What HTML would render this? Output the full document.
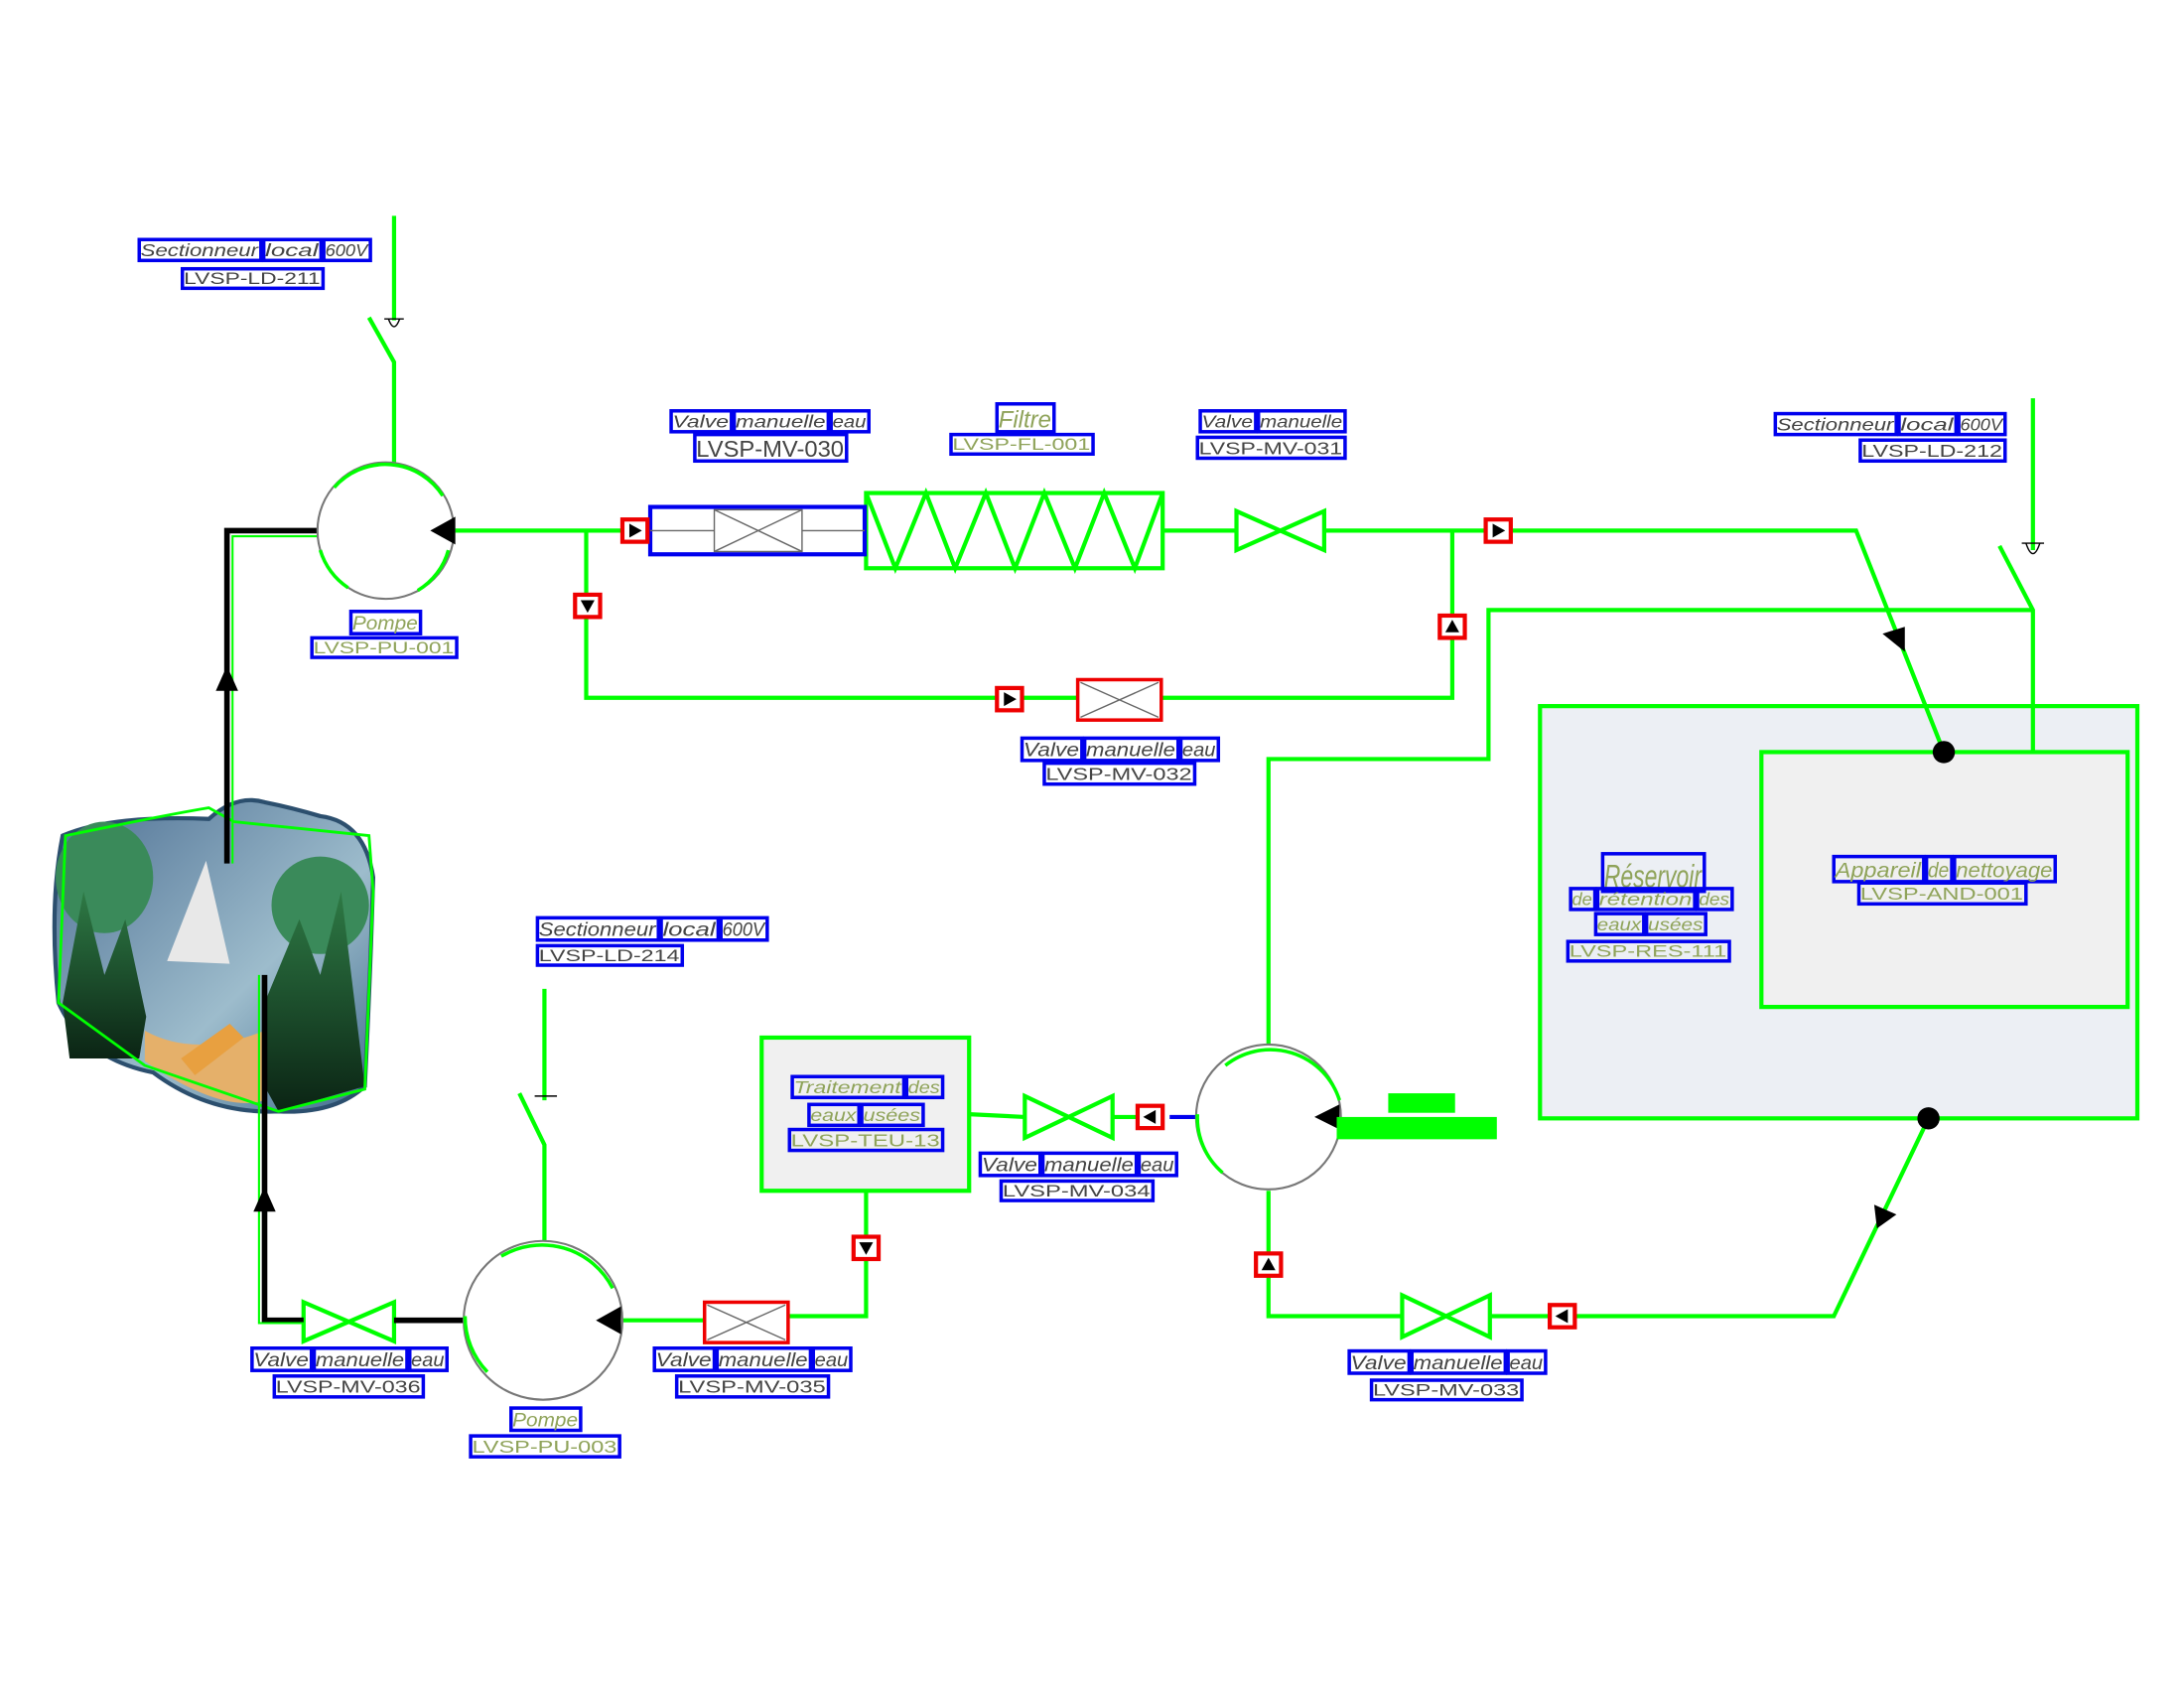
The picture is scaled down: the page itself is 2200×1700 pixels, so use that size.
<!DOCTYPE html>
<html><head><meta charset="utf-8"><style>
html,body{margin:0;padding:0;background:#fff;width:2200px;height:1700px;overflow:hidden}
svg{display:block}
text{font-family:"Liberation Sans",sans-serif}
</style></head><body>
<svg id="s" width="2200" height="1700" viewBox="0 0 1568.5 1212" preserveAspectRatio="none" xmlns="http://www.w3.org/2000/svg">
<defs>
<linearGradient id="lake" x1="0" y1="0" x2="1" y2="1"><stop offset="0" stop-color="#4d6f93"/><stop offset="0.6" stop-color="#9dbccc"/><stop offset="1" stop-color="#3f6a8c"/></linearGradient>
<linearGradient id="tree" x1="0" y1="0" x2="0" y2="1"><stop offset="0" stop-color="#2e7a45"/><stop offset="1" stop-color="#0b2414"/></linearGradient>
</defs>
<g fill="none" stroke="#00ff00" stroke-width="3">
<rect x="1106" y="507" width="429" height="296" fill="#eceff4"/>
<rect x="1265" y="540" width="263" height="183" fill="#f0f0f0"/>
<rect x="547" y="745" width="149" height="110" fill="#f0f0f0"/>
<polyline points="327,381 467,381"/>
<polyline points="421,381 421,501 773,501"/>
<polyline points="835,381 888,381"/>
<polyline points="951,381 1333,381 1396,540"/>
<polyline points="1043,381 1043,501 835,501"/>
<polyline points="283,155 283,230"/><polyline points="265,228 283,260 283,332"/>
<polyline points="1460,286 1460,395"/><polyline points="1436,392 1460,438 1460,540"/>
<polyline points="1460,438 1069,438 1069,545 911,545 911,750"/>
<polyline points="391,710 391,790"/><polyline points="373,785 391,822 391,892"/>
<polyline points="1385,803 1317,945 1070,945"/>
<polyline points="1007,945 911,945 911,855"/>
<polyline points="860,802 840,802" stroke="#0000ee"/>
<polyline points="799,802 826,802"/>
<polyline points="736,802 696,800"/>
<polyline points="622,855 622,945 566,945"/>
<polyline points="505,948 446,948"/>
<rect x="622" y="354" width="213" height="54"/>
<polyline points="622,354 643,408 665,354 686,408 708,354 729,408 750,354 772,408 793,354 815,408 835,354"/>
<polygon points="888,367 888,395 951,367 951,395"/>
<polygon points="736,787 736,817 799,787 799,817"/>
<polygon points="1007,930 1007,960 1070,930 1070,960"/>
<polygon points="218,935 218,963 283,935 283,963"/>
</g>
<g>
<path d="M45,600 Q80,585 150,588 Q170,570 190,576 Q210,580 230,586 Q262,590 268,630 Q266,700 262,780 Q240,800 200,798 Q150,800 110,770 Q60,760 42,720 Q35,650 45,600Z" fill="url(#lake)" stroke="#2c4f6e" stroke-width="3"/>
<ellipse cx="75" cy="630" rx="35" ry="40" fill="#3a8a5a"/>
<ellipse cx="230" cy="650" rx="35" ry="35" fill="#3a8a5a"/>
<path d="M104,762 Q160,800 190,790 L190,740 Q140,760 104,740Z" fill="#e5b06a"/>
<polygon points="148,618 165,692 120,690" fill="#e8e8e8"/>
<polygon points="130,760 165,735 175,745 140,772" fill="#e8a040"/>
<polygon points="45,720 60,640 75,700 90,660 105,730 100,760 50,760" fill="url(#tree)"/>
<polygon points="190,720 215,660 230,700 245,640 262,780 200,798 190,780" fill="url(#tree)"/>
<path d="M47,600 Q120,585 150,580 L168,590 L265,600 L268,640 L262,782 L200,798 L104,765 L42,720 Z" fill="none" stroke="#00ff00" stroke-width="2"/>
</g>
<g stroke="#000" stroke-width="4" fill="none">
<polyline points="228,381 163,381 163,620"/>
<polyline points="333,948 283,948"/>
<polyline points="218,948 190,948 190,700"/>
</g>
<g stroke="#00ff00" stroke-width="1.5" fill="none">
<polyline points="228,385 167,385 167,620"/>
<polyline points="186,700 186,950 218,950"/>
</g>
<polygon points="163,478 155,496 171,496" fill="#000"/>
<polygon points="190,852 182,870 198,870" fill="#000"/>
<g fill="#fff" stroke="#777" stroke-width="1.5">
<circle cx="277" cy="381" r="49"/>
<circle cx="390" cy="948" r="57"/>
<circle cx="911" cy="802" r="52"/>
</g>
<g fill="none" stroke="#00ff00" stroke-width="2.5">
<path d="M240,350 A49,49 0 0 1 318,356"/><path d="M250,422 A49,49 0 0 1 230,395"/><path d="M322,395 A49,49 0 0 1 300,424"/>
<path d="M360,902 A57,57 0 0 1 440,925"/><path d="M350,985 A57,57 0 0 1 334,945"/>
<path d="M880,765 A52,52 0 0 1 962,790"/><path d="M878,842 A52,52 0 0 1 860,800"/>
</g>
<polygon points="327,371 327,391 309,381" fill="#000"/>
<polygon points="446,938 446,958 428,948" fill="#000"/>
<polygon points="962,793 962,811 944,802" fill="#000"/>
<polygon points="1352,455 1368,450 1368,468" fill="#000"/>
<polygon points="1346,865 1362,872 1348,882" fill="#000"/>
<circle cx="1396" cy="540" r="8" fill="#000"/>
<circle cx="1385" cy="803" r="8" fill="#000"/>
<rect x="467" y="364" width="154" height="34" fill="#fff" stroke="#0000ee" stroke-width="3"/>
<g stroke="#666" stroke-width="1" fill="none"><line x1="467" y1="381" x2="513" y2="381"/><line x1="576" y1="381" x2="621" y2="381"/><rect x="513" y="366" width="63" height="30"/><line x1="513" y1="366" x2="576" y2="396"/><line x1="513" y1="396" x2="576" y2="366"/></g>
<g stroke="#666" stroke-width="1" fill="#fff">
<rect x="774" y="488" width="60" height="29" stroke="#ee0000" stroke-width="2.5"/><line x1="776" y1="490" x2="832" y2="515"/><line x1="776" y1="515" x2="832" y2="490"/>
<rect x="506" y="935" width="60" height="29" stroke="#ee0000" stroke-width="2.5"/><line x1="508" y1="937" x2="564" y2="962"/><line x1="508" y1="962" x2="564" y2="937"/>
</g>
<g stroke="#000" stroke-width="1" fill="none">
<line x1="276" y1="229" x2="290" y2="229"/><path d="M279,229 Q283,240 287,229"/>
<line x1="1452" y1="390" x2="1468" y2="390"/><path d="M1455,390 Q1460,405 1465,390"/>
<line x1="384" y1="787" x2="400" y2="787"/>
</g>
<g id="mk"></g>
<rect x="997" y="785" width="48" height="14" fill="#00ff00"/>
<rect x="960" y="802" width="115" height="16" fill="#00ff00"/>
<g id="lb"></g>
</svg>
<script>
var NS="http://www.w3.org/2000/svg";
function el(p,t,a){var e=document.createElementNS(NS,t);for(var k in a)e.setAttribute(k,a[k]);p.appendChild(e);return e;}
var mk=document.getElementById('mk');
function marker(x,y,dir){el(mk,'rect',{x:x-9,y:y-8,width:18,height:16,fill:'#fff',stroke:'#ee0000','stroke-width':3});
var p={r:[[x-4,y-5],[x-4,y+5],[x+5,y]],l:[[x+4,y-5],[x+4,y+5],[x-5,y]],d:[[x-5,y-4],[x+5,y-4],[x,y+5]],u:[[x-5,y+4],[x+5,y+4],[x,y-5]]}[dir];
el(mk,'polygon',{points:p.map(function(a){return a.join(',')}).join(' '),fill:'#000'});}
marker(456,381,'r');marker(422,435,'d');marker(725,502,'r');marker(1076,381,'r');marker(1043,450,'u');
marker(826,802,'l');marker(622,896,'d');marker(911,908,'u');marker(1122,945,'l');
var lb=document.getElementById('lb');
function label(x1,y1,x2,y2,txt,col){var words=txt.split(' ');var tot=0;words.forEach(function(w){tot+=w.length+0.6});
var up=/^LVSP/.test(txt);
var W=x2-x1,cx=x1;words.forEach(function(w){var ww=W*(w.length+0.6)/tot;
el(lb,'rect',{x:cx+1,y:y1,width:ww-2,height:y2-y1,fill:'none',stroke:'#0000ee','stroke-width':2.5});
var t=el(lb,'text',{x:cx+2,y:y2-3,'font-size':(y2-y1)*0.85,fill:col,textLength:ww-5,lengthAdjust:'spacingAndGlyphs','font-style':up?'normal':'italic'});t.textContent=w;cx+=ww;});}
var G='#444',O='#8fa35a';
label(99,172,267,187,'Sectionneur local 600V',G);label(130,193,233,207,'LVSP-LD-211',G);
label(251,439,303,455,'Pompe',O);label(223,458,329,472,'LVSP-PU-001',O);
label(481,295,625,310,'Valve manuelle eau',G);label(498,312,609,331,'LVSP-MV-030',G);
label(715,290,758,310,'Filtre',O);label(682,312,786,326,'LVSP-FL-001',O);
label(861,295,967,310,'Valve manuelle',G);label(859,314,967,329,'LVSP-MV-031',G);
label(1274,297,1441,312,'Sectionneur local 600V',G);label(1335,316,1441,331,'LVSP-LD-212',G);
label(733,530,876,546,'Valve manuelle eau',G);label(749,548,859,563,'LVSP-MV-032',G);
label(1150,613,1225,640,'Réservoir',O);label(1127,638,1245,653,'de rétention des',O);label(1145,656,1226,671,'eaux usées',O);label(1125,676,1243,690,'LVSP-RES-111',O);
label(1316,615,1477,633,'Appareil de nettoyage',O);label(1334,634,1456,649,'LVSP-AND-001',O);
label(385,659,552,675,'Sectionneur local 600V',G);label(385,679,491,693,'LVSP-LD-214',G);
label(568,773,678,788,'Traitement des',O);label(580,793,664,808,'eaux usées',O);label(566,811,678,826,'LVSP-TEU-13',O);
label(703,828,846,844,'Valve manuelle eau',G);label(718,848,829,862,'LVSP-MV-034',G);
label(180,968,322,984,'Valve manuelle eau',G);label(196,988,305,1003,'LVSP-MV-036',G);
label(469,968,612,984,'Valve manuelle eau',G);label(485,988,596,1003,'LVSP-MV-035',G);
label(366,1011,418,1027,'Pompe',O);label(337,1031,446,1046,'LVSP-PU-003',O);
label(968,970,1111,986,'Valve manuelle eau',G);label(984,991,1094,1005,'LVSP-MV-033',G);
</script>
</body></html>
